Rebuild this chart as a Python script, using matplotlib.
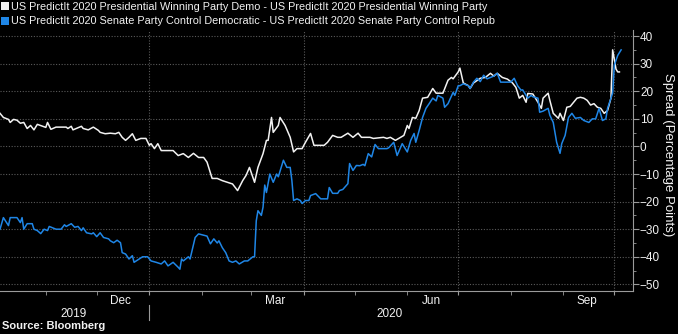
import datetime as dt
import numpy as np
import matplotlib
matplotlib.use("Agg")
import matplotlib.pyplot as plt
import matplotlib.dates as mdates
import matplotlib.transforms as mtrans
from matplotlib.lines import Line2D

plt.rcParams['font.family'] = ['Liberation Sans', 'DejaVu Sans']

# days since 2019-10-05 and spread values (percentage points)
start = dt.date(2019, 10, 5)

pres_day = [0, 2, 5, 6, 8, 10, 12, 14, 16, 18, 20, 22, 27, 28, 30, 33, 36, 39, 40, 42,
            43, 48, 49, 52, 55, 58, 59, 62, 65, 68, 70, 72, 74, 76, 78, 80, 83, 86, 88, 89,
            91, 93, 95, 102, 105, 108, 111, 114, 117, 120, 122, 125, 128, 131, 134, 137, 140, 143, 145, 147,
            150, 152, 155, 157, 158, 160, 161, 164, 165, 168, 171, 173, 175, 178, 180, 183, 185, 187, 191, 193,
            196, 199, 201, 205, 208, 211, 213, 218, 220, 226, 228, 230, 233, 236, 238, 240, 241, 243, 245, 247,
            249, 252, 255, 257, 261, 264, 266, 267, 270, 271, 273, 276, 277, 279, 283, 286, 289, 291, 293, 296,
            299, 302, 304, 306, 308, 310, 311, 314, 317, 319, 320, 323, 324, 326, 329, 330, 332, 334, 336, 338,
            340, 342, 344, 346, 348, 350, 352, 354, 356, 358, 360, 361, 363, 364, 365]
pres_val = [12, 10.5, 9.8, 8.7, 9.8, 9.5, 8.4, 8.7, 6.5, 7.6, 6, 8, 6.9, 8.7, 6.2, 7, 7, 7, 6.5, 7.3,
            6, 7.3, 6.5, 6, 7, 5.8, 5.1, 4.6, 4.8, 4.6, 5.1, 3.3, 2.2, 3.3, 4.6, 2.2, 2.9, 2.9, 0.4, 1,
            -0.8, 1, -1.5, -1.5, -3.3, -2.6, -4, -2.5, -4, -4, -5.7, -11.6, -11.6, -12.4, -13, -13.6, -16, -12.4, -10.5, -7.6,
            -13, -7.6, -2.6, 2.2, 2.2, 10.5, 5.1, 7.6, 10.5, 7.6, 3.3, -2, -0.8, -0.8, 1.5, 4.7, 0.4, 0.4, 0.4, 1.5,
            4, 3.3, 3.3, 4.8, 3.3, 4.8, 3.3, 3.3, 2.9, 3.3, 2.9, 3.3, 2.2, 3.3, 4, 7.6, 6.5, 10.5, 10.2, 13,
            17.5, 17.8, 21, 19.3, 19.3, 24, 25, 24.5, 27, 28.4, 23, 22, 21, 23, 24.7, 25, 26.5, 25.5, 26.5, 25,
            24.4, 23, 21.4, 17.5, 18.5, 16, 19.2, 19, 16, 13.8, 17.5, 19.3, 16.7, 12, 10.2, 12, 9.4, 14.2, 14.5, 16,
            17.5, 17.8, 17.5, 16.7, 15, 15.5, 14.2, 13.8, 12, 13, 17.5, 35, 28, 27, 27]

sen_day = [0, 2, 5, 6, 10, 12, 13, 14, 16, 19, 20, 22, 24, 26, 28, 29, 33, 36, 38, 39,
           42, 44, 46, 48, 49, 51, 54, 55, 57, 59, 61, 64, 65, 67, 69, 71, 72, 74, 76, 78,
           79, 82, 84, 87, 89, 92, 95, 97, 99, 102, 105, 106, 107, 108, 111, 112, 115, 117, 120, 122,
           124, 126, 128, 129, 131, 133, 135, 137, 139, 141, 144, 146, 149, 150, 151, 152, 154, 155, 156, 157,
           159, 161, 163, 164, 167, 169, 171, 172, 173, 175, 177, 178, 180, 182, 183, 186, 189, 193, 194, 196,
           199, 200, 202, 205, 206, 208, 210, 212, 214, 215, 217, 219, 221, 223, 228, 229, 232, 234, 237, 240,
           242, 244, 245, 247, 249, 251, 253, 255, 257, 258, 261, 262, 264, 267, 268, 270, 271, 273, 276, 277,
           279, 281, 283, 285, 287, 289, 291, 293, 295, 301, 303, 305, 307, 308, 311, 313, 314, 317, 318, 320,
           323, 324, 326, 328, 330, 331, 333, 335, 337, 339, 342, 344, 347, 349, 351, 353, 355, 357, 358, 361,
           362, 364, 366]
sen_val = [-30, -25.8, -28.7, -25.8, -25.8, -27.6, -25.8, -30, -28, -28, -30, -30.5, -31.6, -30, -30.5, -29, -30, -30, -28.4, -29,
           -28, -29.3, -29, -30.5, -29.5, -31.3, -31.7, -31.3, -32.7, -31.3, -33, -33.5, -34.2, -34.9, -34, -34.9, -38.5, -39, -40.8, -39.6,
           -42, -40.8, -40, -40, -41.5, -42, -42.6, -41.5, -43.3, -42, -43.8, -44.5, -40.8, -41.5, -40, -40.8, -33, -31.7, -32.2, -32.5,
           -35.3, -33.5, -35, -34.2, -36.7, -38.5, -41.5, -42, -41.5, -42.6, -41.5, -41.5, -40, -40, -27, -23.3, -25, -22, -14, -16.7,
           -10, -13, -10, -11, -5, -7.6, -7.6, -12.4, -19.6, -19, -19.6, -20.7, -19.6, -19.6, -17.8, -17.1, -19, -19, -14.9, -17,
           -17, -16, -15.6, -13.5, -6.2, -8.7, -6.9, -7, -6.5, -7, -2.6, -3.8, 0.7, -0.8, -0.8, -0.5, 1.5, -3.3, 1, -2,
           2.2, 4.7, 1.5, 5.8, 10.5, 13.8, 15.6, 17.5, 16.5, 18.5, 17.5, 14.2, 15.5, 19.6, 18.5, 22, 22, 22.7, 22, 21,
           23.3, 24.7, 23.5, 25.8, 24.5, 25, 25.5, 26.5, 23.3, 23.3, 24.7, 22, 20.4, 20.5, 17.5, 18.5, 18, 17.5, 12.4, 12.8,
           13.8, 11.3, 8.7, 1.5, -2.5, 1, 4, 10.5, 12, 10.2, 10.5, 9.4, 8.7, 10, 10, 13.8, 9.4, 10, 13.8, 19.3,
           29.5, 33, 35]

pres_label = 'US PredictIt 2020 Presidential Winning Party Demo - US PredictIt 2020 Presidential Winning Party'
sen_label = 'US PredictIt 2020 Senate Party Control Democratic - US PredictIt 2020 Senate Party Control Repub'

pres_dates = [start + dt.timedelta(days=d) for d in pres_day]
sen_dates = [start + dt.timedelta(days=d) for d in sen_day]

white = '#f2f2f2'
blue = '#1f86e6'
grey = '#9a9a9a'

fig = plt.figure(figsize=(6.78, 3.34), dpi=100, facecolor='black')
ax = fig.add_axes([0, 1 - 291 / 334, 633 / 678, 261 / 334])
ax.set_facecolor('black')

ax.plot(pres_dates, pres_val, color=white, lw=1.1)
ax.plot(sen_dates, sen_val, color=blue, lw=1.1)

ax.set_xlim(start + dt.timedelta(hours=12), start + dt.timedelta(days=373))
ax.set_ylim(-52.4, 42.2)

# y axis on the right
ax.yaxis.tick_right()
ax.set_yticks(np.arange(-50, 41, 10))
ax.set_yticks(np.arange(-45, 41, 10), minor=True)
ax.tick_params(axis='y', which='major', colors=grey, labelcolor=white, length=4, labelsize=8.5, pad=1)
ax.tick_params(axis='y', which='minor', colors=grey, length=2)
fig.text(668 / 678, 1 - 155 / 334, 'Spread (Percentage Points)', color=white, fontsize=9.5,
         rotation=270, ha='center', va='center')

# x axis: month ticks, quarter grid
ax.xaxis.set_major_locator(mdates.MonthLocator(bymonth=[1, 4, 7, 10]))
ax.xaxis.set_minor_locator(mdates.MonthLocator())
ax.xaxis.set_major_formatter(plt.NullFormatter())
ax.tick_params(axis='x', which='both', colors=grey, length=3)

ax.grid(True, which='major', color='#5a5a5a', linestyle=(0, (1, 1.5)), lw=0.8)

for s in ['top', 'left']:
    ax.spines[s].set_visible(False)
for s in ['right', 'bottom']:
    ax.spines[s].set_color(grey)

trans = mtrans.blended_transform_factory(ax.transData, ax.transAxes)
for m in [dt.date(2019, 12, 15), dt.date(2020, 3, 15), dt.date(2020, 6, 15), dt.date(2020, 9, 15)]:
    ax.text(m, -0.014, m.strftime('%b'), transform=trans, ha='center', va='top', color=white, fontsize=8.5)
ax.text(0.117, -0.066, '2019', transform=ax.transAxes, ha='center', va='top', color=white, fontsize=8.5)
ax.text(390 / 633, -0.066, '2020', transform=ax.transAxes, ha='center', va='top', color=white, fontsize=8.5)
ax.plot([dt.date(2020, 1, 1)] * 2, [-0.054, -0.111], transform=trans, color=grey, lw=0.8, clip_on=False)

fig.text(0.003, 0.008, 'Source: Bloomberg', color=white, fontsize=8, fontweight='bold', ha='left', va='bottom')

handles = [Line2D([], [], ls='none', marker='s', markersize=6, markerfacecolor=white, markeredgewidth=0),
           Line2D([], [], ls='none', marker='s', markersize=6, markerfacecolor=blue, markeredgewidth=0)]
leg = fig.legend(handles, [pres_label, sen_label], loc='upper left', bbox_to_anchor=(0, 1.0),
                 frameon=False, fontsize=7.8, handlelength=0.6, handletextpad=0.25,
                 labelspacing=0.4, borderpad=0.2, borderaxespad=0)
for t in leg.get_texts():
    t.set_color(white)

fig.savefig('out.png', dpi=100, facecolor='black')
